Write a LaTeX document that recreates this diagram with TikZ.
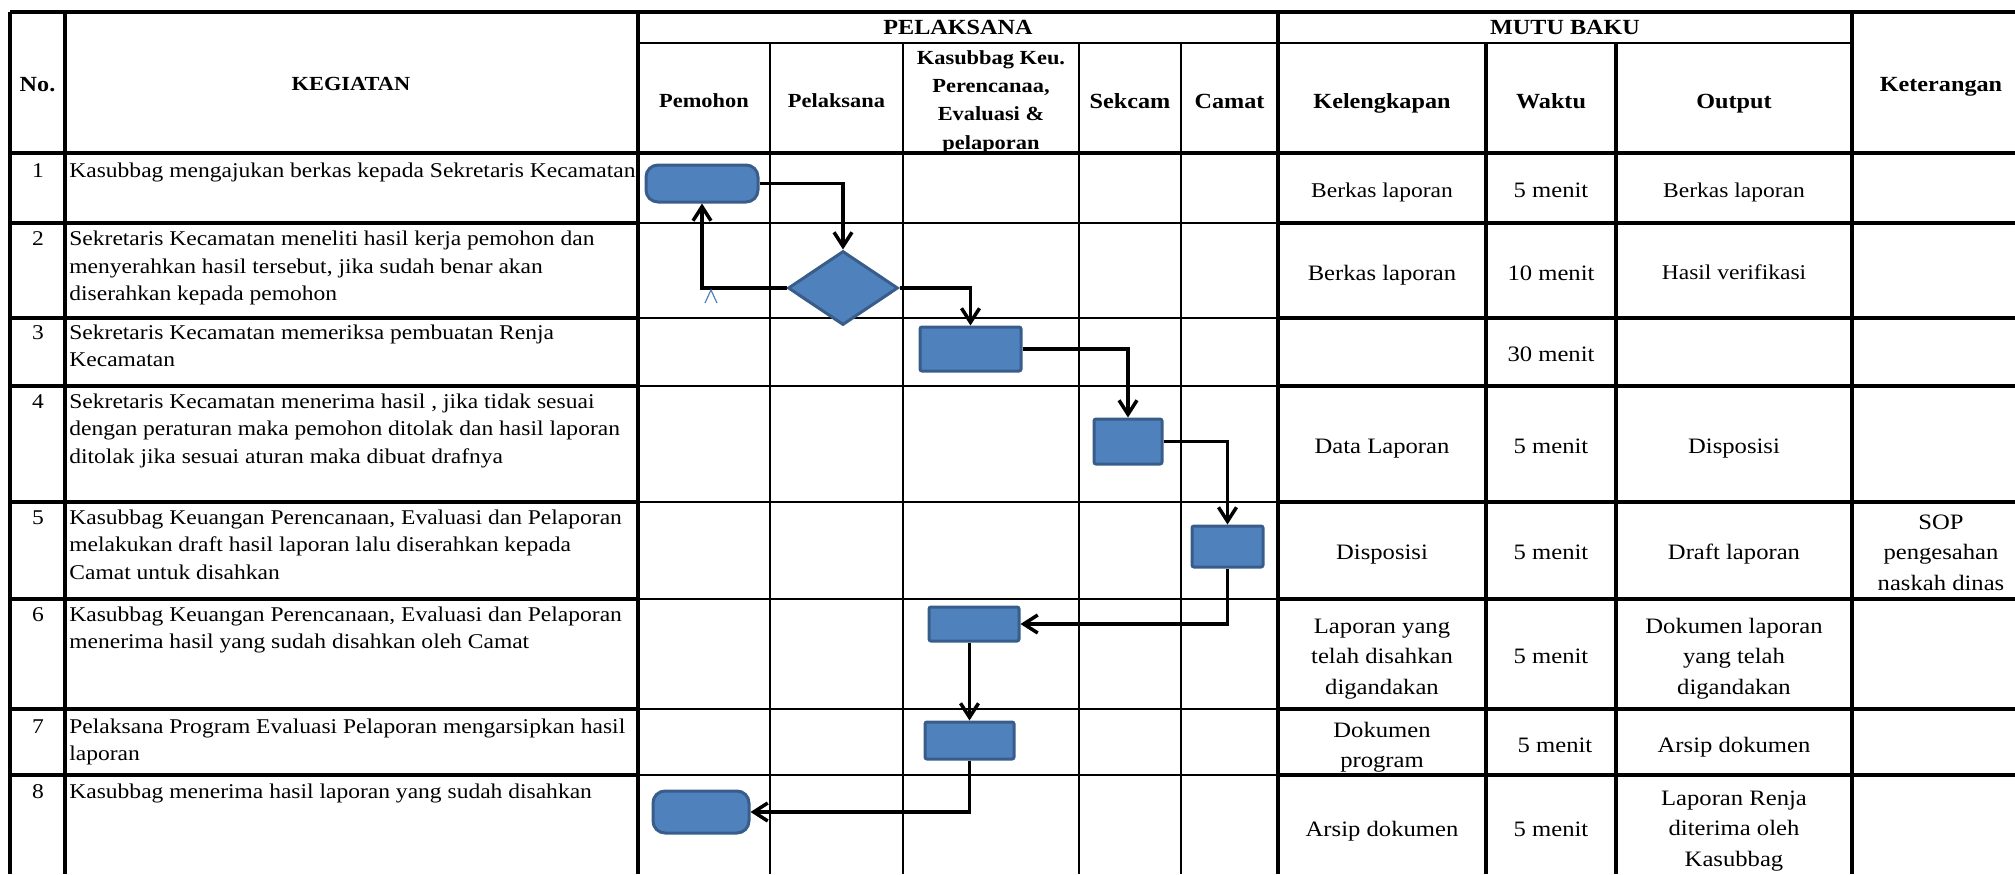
\documentclass[tikz,border=0pt]{standalone}
\usepackage{fontspec}
\setmainfont{Liberation Serif}[FakeStretch=1.12]
\usetikzlibrary{arrows.meta,shapes.geometric}
\definecolor{boxfill}{HTML}{4F81BD}
\definecolor{boxline}{HTML}{385D8A}
\tikzset{
  major/.style={line width=2.4pt},
  rowline/.style={line width=1.8pt},
  laneline/.style={line width=1.3pt},
  proc/.style={draw=boxline, fill=boxfill, line width=1.5pt, inner sep=0pt, rectangle, rounded corners=1pt},
  term/.style={proc, rounded corners=6pt},
  dec/.style={draw=boxline, fill=boxfill, line width=1.5pt, diamond, inner sep=0pt},
  flow/.style={line width=1.75pt, -{Straight Barb[length=7pt,width=9pt]}},
  body/.style={font=\fontsize{10.5}{13.75}\selectfont, inner sep=0pt, align=left, anchor=base west},
  numtxt/.style={font=\fontsize{10.5}{13.75}\selectfont, inner sep=0pt, anchor=base},
  hd/.style={font=\fontsize{10.8}{14.15}\bfseries\selectfont, inner sep=0pt, anchor=base, align=center},
  hds/.style={font=\fontsize{10}{14.15}\bfseries\selectfont, inner sep=0pt, anchor=base, align=center},
  celltxt/.style={font=\fontsize{11}{15.25}\selectfont, inner sep=0pt, anchor=base, align=center},
  smalltxt/.style={font=\fontsize{10.5}{15.25}\selectfont, inner sep=0pt, anchor=base, align=center},
}
\begin{document}
\begin{tikzpicture}[x=0.5pt,y=-0.5pt]
\useasboundingbox (0,0) rectangle (2015,874);
% ---------- grid ----------
\draw[major] (10,12) -- (2015,12);
\draw[laneline] (638,43) -- (1852,43);
\draw[major] (10,153) -- (2015,153);
\foreach \y in {223,318,386,502,599,709,775}{
  \draw[rowline] (10,\y) -- (638,\y);
  \draw[laneline] (638,\y) -- (1278,\y);
  \draw[rowline] (1278,\y) -- (2015,\y);
}
\foreach \x in {10,65,638,1278,1852}{
  \draw[major] (\x,12) -- (\x,874);
}
\foreach \x in {770,903,1079,1181}{
  \draw[laneline] (\x,43) -- (\x,874);
}
\foreach \x in {1486,1616}{
  \draw[rowline] (\x,43) -- (\x,874);
}
% ---------- headers (multi-line nodes are placed by the baseline of their last line) ----------
\node[hd] (hno) at (37.5,91) {No.};
\node[hds] (hkeg) at (351,90) {KEGIATAN};
\node[hd] (hpel) at (958,34) {PELAKSANA};
\node[hd] (hmutu) at (1565,34) {MUTU BAKU};
\node[hds] (hpem) at (704,107) {Pemohon};
\node[hds] (hpls) at (836.5,107) {Pelaksana};
\node[hds] (hkas) at (991,149) {Kasubbag Keu.\\Perencanaa,\\Evaluasi \&\\pelaporan};
\node[hd] (hsek) at (1130,108) {Sekcam};
\node[hd] (hcam) at (1229.5,108) {Camat};
\node[hd] (hkel) at (1382,108) {Kelengkapan};
\node[hd] (hwak) at (1551,108) {Waktu};
\node[hd] (hout) at (1734,108) {Output};
\node[hd] (hket) at (1941,91) {Keterangan};
% ---------- numbers & activities ----------
\node[numtxt] (n1) at (38,177) {1};
\node[numtxt] (n2) at (38,245.5) {2};
\node[numtxt] (n3) at (38,339) {3};
\node[numtxt] (n4) at (38,408) {4};
\node[numtxt] (n5) at (38,524) {5};
\node[numtxt] (n6) at (38,621) {6};
\node[numtxt] (n7) at (38,733) {7};
\node[numtxt] (n8) at (38,798) {8};
\node[body] (k1) at (69,177) {Kasubbag mengajukan berkas kepada Sekretaris Kecamatan};
\node[body] (k2) at (69,300.5) {Sekretaris Kecamatan meneliti hasil kerja pemohon dan\\menyerahkan hasil tersebut, jika sudah benar akan\\diserahkan kepada pemohon};
\node[body] (k3) at (69,366.5) {Sekretaris Kecamatan memeriksa pembuatan Renja\\Kecamatan};
\node[body] (k4) at (69,463) {Sekretaris Kecamatan menerima hasil , jika tidak sesuai\\dengan peraturan maka pemohon ditolak dan hasil laporan\\ditolak jika sesuai aturan maka dibuat drafnya};
\node[body] (k5) at (69,579) {Kasubbag Keuangan Perencanaan, Evaluasi dan Pelaporan\\melakukan draft hasil laporan lalu diserahkan kepada\\Camat untuk disahkan};
\node[body] (k6) at (69,648.5) {Kasubbag Keuangan Perencanaan, Evaluasi dan Pelaporan\\menerima hasil yang sudah disahkan oleh Camat};
\node[body] (k7) at (69,760.5) {Pelaksana Program Evaluasi Pelaporan mengarsipkan hasil\\laporan};
\node[body] (k8) at (69,798) {Kasubbag menerima hasil laporan yang sudah disahkan};
% ---------- mutu baku ----------
\node[smalltxt] (c1a) at (1382,197) {Berkas laporan};
\node[celltxt] (c1b) at (1551,197) {5 menit};
\node[smalltxt] (c1c) at (1734,197) {Berkas laporan};
\node[celltxt] (c2a) at (1382,280) {Berkas laporan};
\node[celltxt] (c2b) at (1551,280) {10 menit};
\node[smalltxt] (c2c) at (1734,279) {Hasil verifikasi};
\node[celltxt] (c3b) at (1551,361) {30 menit};
\node[celltxt] (c4a) at (1382,453) {Data Laporan};
\node[celltxt] (c4b) at (1551,453) {5 menit};
\node[celltxt] (c4c) at (1734,453) {Disposisi};
\node[celltxt] (c5a) at (1382,559) {Disposisi};
\node[celltxt] (c5b) at (1551,559) {5 menit};
\node[celltxt] (c5c) at (1734,559) {Draft laporan};
\node[celltxt] (c5d) at (1941,590) {SOP\\pengesahan\\naskah dinas};
\node[celltxt] (c6a) at (1382,694) {Laporan yang\\telah disahkan\\digandakan};
\node[celltxt] (c6b) at (1551,663) {5 menit};
\node[celltxt] (c6c) at (1734,694) {Dokumen laporan\\yang telah\\digandakan};
\node[celltxt] (c7a) at (1382,767.5) {Dokumen\\program};
\node[celltxt] (c7b) at (1555,752) {5 menit};
\node[celltxt] (c7c) at (1734,752) {Arsip dokumen};
\node[celltxt] (c8a) at (1382,836) {Arsip dokumen};
\node[celltxt] (c8b) at (1551,836) {5 menit};
\node[celltxt] (c8c) at (1734,866) {Laporan Renja\\diterima oleh\\Kasubbag};
% ---------- flow shapes ----------
\node[term, minimum width=56pt, minimum height=18.5pt] (s1) at (702,183.5) {};
\node[dec, minimum width=55pt, minimum height=37pt] (d2) at (843,288) {};
\node[proc, minimum width=50.5pt, minimum height=22pt] (s3) at (970.5,349) {};
\node[proc, minimum width=34pt, minimum height=22.5pt] (s4) at (1128,441.5) {};
\node[proc, minimum width=35.5pt, minimum height=20.5pt] (s5) at (1227.5,546.5) {};
\node[proc, minimum width=45pt, minimum height=17pt] (s6) at (974,624) {};
\node[proc, minimum width=44.5pt, minimum height=18.5pt] (s7) at (969.5,740.5) {};
\node[term, minimum width=48pt, minimum height=21pt] (s8) at (701,812) {};
% ---------- connectors ----------
\draw[flow] (s1.east) -| (d2.north);
\draw[flow] (d2.west) -| (s1.south);
\draw[flow] (d2.east) -| (s3.north);
\draw[flow] (s3.east) -| (s4.north);
\draw[flow] (s4.east) -| (s5.north);
\draw[flow] (s5.south) |- (s6.east);
\draw[flow] (s6.south -| s7.north) -- (s7.north);
\draw[flow] (s7.south) |- (s8.east);
% stray small mark
\draw[boxfill, line width=0.6pt] (705,303) -- (711,290) -- (717,303);
\end{tikzpicture}
\end{document}
